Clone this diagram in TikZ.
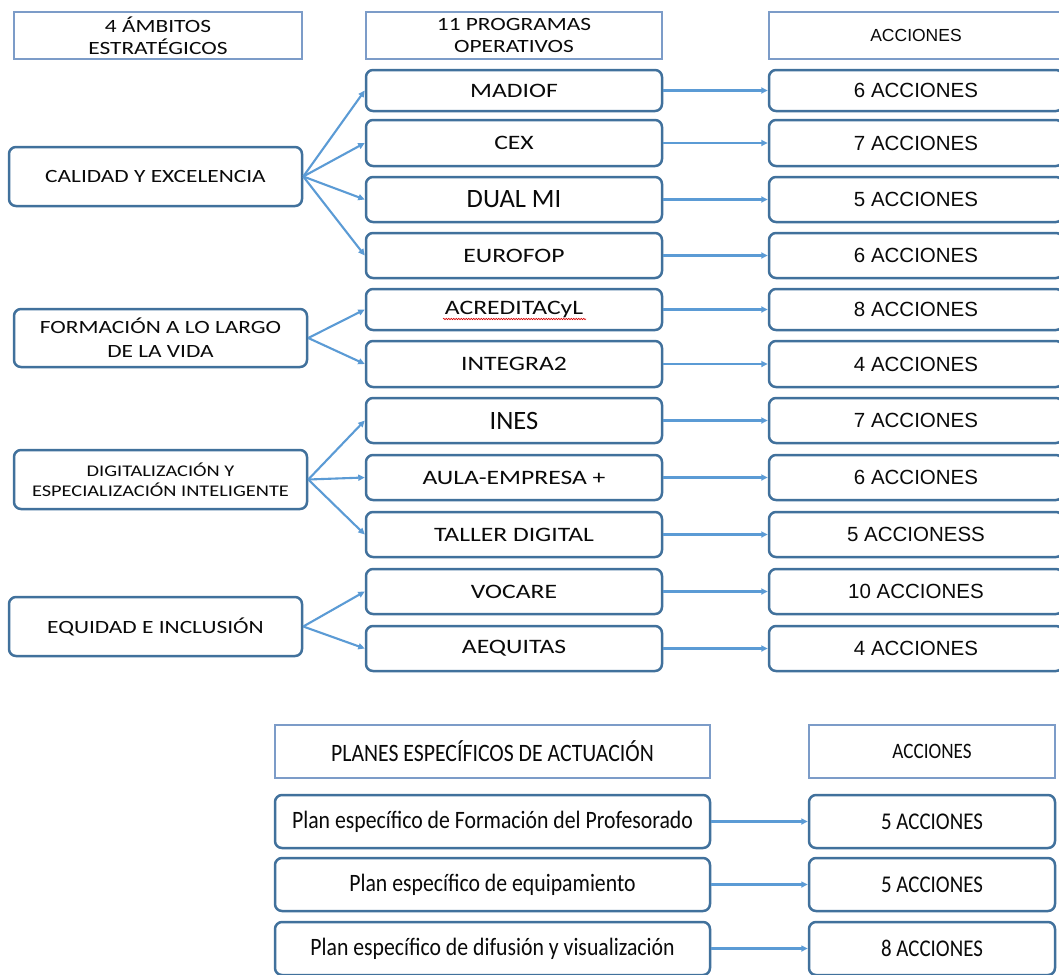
\documentclass[tikz,border=0pt]{standalone}
\usepackage{fontspec}
\usetikzlibrary{arrows.meta,decorations.pathmorphing}
\newfontfamily\cw[FakeStretch=1.25]{Carlito}
\newfontfamily\cn[FakeStretch=0.87]{Carlito}
\newfontfamily\cp{Carlito}
\newfontfamily\ar{Liberation Sans}
\definecolor{bord}{HTML}{41719C}
\definecolor{hbord}{HTML}{7C9CC8}
\definecolor{arr}{HTML}{5B9BD5}
\definecolor{txt}{HTML}{0A0A0A}
\begin{document}
\begin{tikzpicture}[x=1pt,y=-1pt,
  hdr/.style={draw=hbord,line width=1.7pt,inner sep=0pt,align=center,text=txt},
  rbox/.style={draw=bord,line width=2.5pt,rounded corners=7pt,inner sep=0pt,align=center,text=txt},
  prog/.style={rbox,minimum width=296pt,font=\cw\fontsize{20.5}{24}\selectfont},
  bigprog/.style={prog,font=\cp\fontsize{26.5}{30}\selectfont},
  act/.style={rbox,minimum width=294pt,font=\ar\fontsize{20.5}{24}\selectfont},
  amb/.style={rbox,minimum width=293pt,font=\cw\fontsize{18.7}{24}\selectfont},
  plan/.style={rbox,minimum width=435pt,minimum height=53pt,font=\cn\fontsize{25}{28}\selectfont},
  bact/.style={rbox,minimum width=246pt,minimum height=53pt,font=\cn\fontsize{24}{28}\selectfont},
  link/.style={draw=arr,line width=2.1pt,-{Triangle[length=6.5pt,width=6pt]}},
  squig/.style={draw=red!85!black,line width=0.6pt,decorate,decoration={snake,amplitude=0.7pt,segment length=2.5pt}}
]
\useasboundingbox (0,0) rectangle (1059,974);
\clip (0,0) rectangle (1059,974);
\fill[white] (0,0) rectangle (1059,974);

% headers
\node[hdr,minimum width=288pt,minimum height=47pt,font=\cw\fontsize{18.7}{22}\selectfont] (h1) at (158,35.5) {4 ÁMBITOS\\ESTRATÉGICOS};
\node[hdr,minimum width=296pt,minimum height=47pt,font=\cw\fontsize{18.7}{22}\selectfont] (h2) at (514,35.5) {11 PROGRAMAS\\OPERATIVOS};
\node[hdr,minimum width=294pt,minimum height=47pt,font=\ar\fontsize{17.5}{20}\selectfont] (h3) at (916,35.5) {ACCIONES};

% ambitos
\node[amb,minimum height=59pt] (a1) at (155.5,176.5) {CALIDAD Y EXCELENCIA};
\node[amb,minimum height=58pt] (a2) at (160.5,338) {FORMACIÓN A LO LARGO\\DE LA VIDA};
\node[amb,minimum height=59pt,font=\cw\fontsize{16.3}{20}\selectfont] (a3) at (160.5,479.5) {DIGITALIZACIÓN Y\\ESPECIALIZACIÓN INTELIGENTE};
\node[amb,minimum height=59pt] (a4) at (155.5,626.5) {EQUIDAD E INCLUSIÓN};

% programas
\node[prog,minimum height=41pt] (p1) at (514,90.5) {MADIOF};
\node[prog,minimum height=46pt] (p2) at (514,143) {CEX};
\node[bigprog,minimum height=45pt] (p3) at (514,199.5) {DUAL MI};
\node[prog,minimum height=45pt] (p4) at (514,255.5) {EUROFOP};
\node[prog,minimum height=41pt] (p5) at (514,309.5) {ACREDITACyL};
\node[prog,minimum height=46pt] (p6) at (514,364) {INTEGRA2};
\node[bigprog,minimum height=45pt] (p7) at (514,420.5) {INES};
\node[prog,minimum height=45pt] (p8) at (514,477.5) {AULA-EMPRESA +};
\node[prog,minimum height=45pt] (p9) at (514,534.5) {TALLER DIGITAL};
\node[prog,minimum height=45pt] (p10) at (514,591.5) {VOCARE};
\node[prog,minimum height=45pt] (p11) at (514,648.5) {AEQUITAS};

\draw[squig] ([xshift=-71pt,yshift=-9.5pt]p5.center) -- ([xshift=72pt,yshift=-9.5pt]p5.center);

% acciones
\node[act,minimum height=41pt] (c1) at (916,90.5) {6 ACCIONES};
\node[act,minimum height=46pt] (c2) at (916,143) {7 ACCIONES};
\node[act,minimum height=45pt] (c3) at (916,199.5) {5 ACCIONES};
\node[act,minimum height=45pt] (c4) at (916,255.5) {6 ACCIONES};
\node[act,minimum height=41pt] (c5) at (916,309.5) {8 ACCIONES};
\node[act,minimum height=46pt] (c6) at (916,364) {4 ACCIONES};
\node[act,minimum height=45pt] (c7) at (916,420.5) {7 ACCIONES};
\node[act,minimum height=45pt] (c8) at (916,477.5) {6 ACCIONES};
\node[act,minimum height=45pt] (c9) at (916,534.5) {5 ACCIONESS};
\node[act,minimum height=45pt] (c10) at (916,591.5) {10 ACCIONES};
\node[act,minimum height=45pt] (c11) at (916,648.5) {4 ACCIONES};

% links ambito -> programa
\foreach \p in {p1,p2,p3,p4} \draw[link] (a1.east) -- (\p.west);
\foreach \p in {p5,p6} \draw[link] (a2.east) -- (\p.west);
\foreach \p in {p7,p8,p9} \draw[link] (a3.east) -- (\p.west);
\foreach \p in {p10,p11} \draw[link] (a4.east) -- (\p.west);
% links programa -> acciones
\foreach \i in {1,...,11} \draw[link] (p\i.east) -- (c\i.west);

% bottom section
\node[hdr,minimum width=435pt,minimum height=53pt,font=\cn\fontsize{25}{28}\selectfont] (ph) at (492.5,751.5) {PLANES ESPECÍFICOS DE ACTUACIÓN};
\node[hdr,minimum width=246pt,minimum height=53pt,font=\cn\fontsize{22}{26}\selectfont] (ah) at (932,751.5) {ACCIONES};

\node[plan] (l1) at (492.5,821.5) {Plan específico de Formación del Profesorado};
\node[plan] (l2) at (492.5,884.5) {Plan específico de equipamiento};
\node[plan] (l3) at (492.5,948.5) {Plan específico de difusión y visualización};

\node[bact] (b1) at (932,821.5) {5 ACCIONES};
\node[bact] (b2) at (932,884.5) {5 ACCIONES};
\node[bact] (b3) at (932,948.5) {8 ACCIONES};

\foreach \i in {1,2,3} \draw[link] (l\i.east) -- (b\i.west);
\end{tikzpicture}
\end{document}
